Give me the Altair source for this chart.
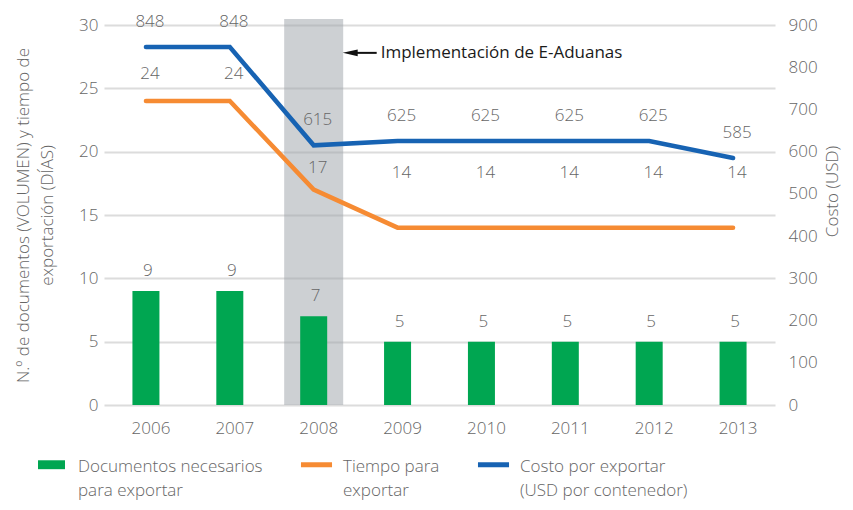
import altair as alt
import pandas as pd

# ---------------- data ----------------
years = ["2006", "2007", "2008", "2009", "2010", "2011", "2012", "2013"]
documentos = [9, 9, 7, 5, 5, 5, 5, 5]
tiempo = [24, 24, 17, 14, 14, 14, 14, 14]
costo = [848, 848, 615, 625, 625, 625, 625, 585]

band_year = ["2008"]
note_text = ["Implementación de E-Aduanas"]
note_level = [27.8]

series = [
    "Documentos necesarios|para exportar",
    "Tiempo para|exportar",
    "Costo por exportar|(USD por contenedor)",
]
colors = ["#00a651", "#f68b33", "#1763b3"]

left_ticks = [0, 5, 10, 15, 20, 25, 30]
right_ticks = [0, 100, 200, 300, 400, 500, 600, 700, 800, 900]

df = pd.DataFrame({"year": years, "doc": documentos, "tiempo": tiempo, "costo": costo})
band_df = pd.DataFrame({"year": band_year})
note_df = pd.DataFrame({"year": band_year, "y": note_level, "text": note_text})
leg_df = pd.DataFrame({"serie": series})

FONT = "Open Sans"
GREY = "#666666"
LW = 300

xscale = alt.Scale(domain=years, paddingInner=0, paddingOuter=0)
x_enc = alt.X(
    "year:N",
    scale=xscale,
    title=None,
    axis=alt.Axis(
        domain=False, ticks=False, labelAngle=0, labelPadding=15, labelOffset=5,
        labelFontSize=17, labelColor=GREY, labelFont=FONT, labelFontWeight=LW, grid=False,
    ),
)

left_dom = alt.Scale(domain=[0, 30], nice=False, zero=True)
right_dom = alt.Scale(domain=[0, 900], nice=False, zero=True)

# grey band marking 2008
band = alt.Chart(band_df).mark_bar(size=59, color="#9ba1a7", opacity=0.5).encode(
    x=x_enc, y=alt.value(-6), y2=alt.value(380)
)

# bars
bars = alt.Chart(df).mark_bar(size=27, color=colors[0]).encode(
    x=x_enc,
    y=alt.Y(
        "doc:Q",
        scale=left_dom,
        axis=alt.Axis(
            orient="left", values=left_ticks, grid=True, gridColor="#dcdcdc", gridWidth=2,
            domain=False, ticks=False, labelPadding=6, labelFontSize=17, labelColor=GREY,
            labelFont=FONT, labelFontWeight=LW,
            title=["N.º de documentos (VOLUMEN) y tiempo de", "exportación (DÍAS)"],
            titleFontSize=17, titleFontWeight=LW, titleColor=GREY, titleFont=FONT,
            titleLineHeight=24, titlePadding=22,
        ),
    ),
)
bar_labels = alt.Chart(df).mark_text(
    dy=-20, dx=2, fontSize=17, color=GREY, font=FONT, fontWeight=LW
).encode(x=x_enc, y=alt.Y("doc:Q", scale=left_dom, axis=None), text=alt.Text("doc:Q"))

# orange line (time)
t_line = alt.Chart(df).mark_line(color=colors[1], strokeWidth=4.5, strokeCap="round").encode(
    x=x_enc, y=alt.Y("tiempo:Q", scale=left_dom, axis=None)
)


def t_labels(sel, dy):
    return (
        alt.Chart(df)
        .transform_filter(alt.FieldOneOfPredicate(field="year", oneOf=sel))
        .mark_text(dy=dy, dx=4, fontSize=17, color=GREY, font=FONT, fontWeight=LW)
        .encode(x=x_enc, y=alt.Y("tiempo:Q", scale=left_dom, axis=None), text=alt.Text("tiempo:Q"))
    )


t_lab_a = t_labels(years[0:2], -27)
t_lab_b = t_labels(years[2:3], -22)
t_lab_c = t_labels(years[3:], -55)

# blue line (cost) on the right axis
c_line = alt.Chart(df).mark_line(color=colors[2], strokeWidth=4.5, strokeCap="round").encode(
    x=x_enc,
    y=alt.Y(
        "costo:Q",
        scale=right_dom,
        axis=alt.Axis(
            orient="right", values=right_ticks, grid=False, domain=False, ticks=False,
            labelPadding=13, labelFontSize=17, labelColor=GREY, labelFont=FONT, labelFontWeight=LW,
            title="Costo (USD)", titleAngle=270, titleBaseline="top", titleY=166,
            titleFontSize=17, titleFontWeight=LW, titleColor=GREY, titleFont=FONT,
            titlePadding=7,
        ),
    ),
)
c_labels = alt.Chart(df).mark_text(
    dy=-25, dx=4, fontSize=17, color=GREY, font=FONT, fontWeight=LW
).encode(x=x_enc, y=alt.Y("costo:Q", scale=right_dom, axis=None), text=alt.Text("costo:Q"))

# annotation arrow + text
arrow_shaft = alt.Chart(note_df).mark_rule(
    color="#111111", strokeWidth=2, xOffset=40, x2Offset=63
).encode(x=x_enc, x2="year:N", y=alt.Y("y:Q", scale=left_dom, axis=None))
arrow_head = alt.Chart(note_df).mark_point(
    shape="M-1,0L1,-0.45L1,0.45Z", filled=True, size=225, color="#111111", opacity=1, xOffset=36.5
).encode(x=x_enc, y=alt.Y("y:Q", scale=left_dom, axis=None))
note = alt.Chart(note_df).mark_text(
    align="left", xOffset=67, fontSize=17, fontWeight=500, color="#1a1a1a", font=FONT
).encode(x=x_enc, y=alt.Y("y:Q", scale=left_dom, axis=None), text="text:N")

# legend via invisible points
rect_path = "M-1,-0.85H1V-0.19H-1Z"
line_path = "M-1.15,-0.705H1.15V-0.335H-1.15Z"
legend = alt.Legend(
    title=None, orient="none", legendX=-66, legendY=433, direction="horizontal", columns=3,
    columnPadding=37, symbolSize=729, symbolOpacity=1, symbolStrokeWidth=0,
    labelExpr="split(datum.label, '|')", labelFont=FONT, labelFontSize=17, labelColor=GREY,
    labelFontWeight=LW, labelBaseline="alphabetic", labelOffset=13, labelLimit=400,
)
leg_pts = alt.Chart(leg_df).mark_point(filled=True, opacity=0).encode(
    color=alt.Color("serie:N", scale=alt.Scale(domain=series, range=colors), legend=legend),
    shape=alt.Shape(
        "serie:N", scale=alt.Scale(domain=series, range=[rect_path, line_path, line_path]), legend=legend
    ),
)

chart = (
    alt.layer(
        band, bars, bar_labels, t_line, t_lab_a, t_lab_b, t_lab_c,
        c_line, c_labels, arrow_shaft, arrow_head, note, leg_pts,
    )
    .resolve_scale(y="independent")
    .properties(
        width=671, height=380, autosize=alt.AutoSizeParams(type="none"),
        padding={"left": 96, "top": 17, "right": 70, "bottom": 97},
    )
    .configure(font=FONT, style={"guide-label": {"lineHeight": 24}})
    .configure_view(stroke=None)
)

chart.save("out.html", embed_options={"renderer": "svg", "actions": False})
